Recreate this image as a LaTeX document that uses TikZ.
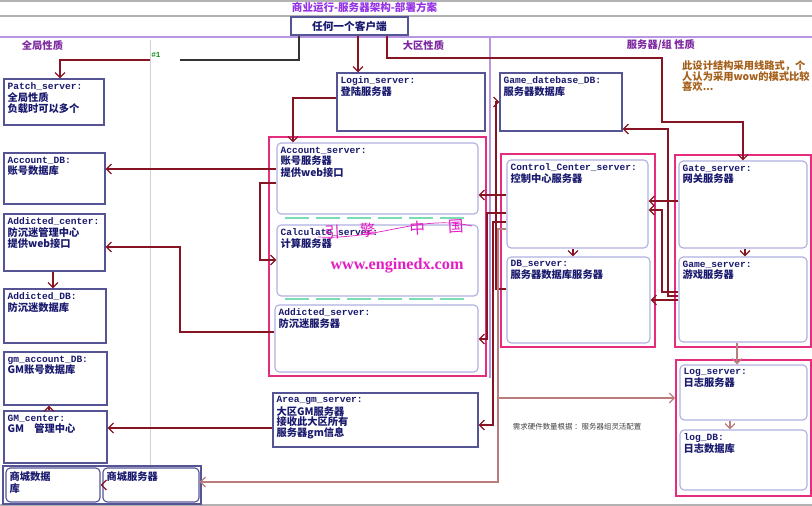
\documentclass[tikz,border=0pt]{standalone}
\usepackage{fontspec}
\setmonofont{Liberation Mono}
\newfontfamily\cjk{Noto Sans CJK SC}
\newfontfamily\serifw{Liberation Serif}
\usepackage{tikz}
\usetikzlibrary{arrows.meta,positioning,fit}
\definecolor{Navy}    {RGB}{ 25, 25,110}
\definecolor{BoxEdge} {RGB}{ 85, 85,150}
\definecolor{SoftEdge}{RGB}{175,175,225}
\definecolor{Frame}   {RGB}{230, 45,125}
\definecolor{Maroon}  {RGB}{135, 20, 35}
\definecolor{Rosy}    {RGB}{185,125,125}
\definecolor{TitleVio}{RGB}{150, 50,230}
\definecolor{ZonePur} {RGB}{125, 40,160}
\definecolor{Divider} {RGB}{185,150,225}
\definecolor{Mint}    {RGB}{120,220,180}
\definecolor{NoteBrn} {RGB}{165, 95, 25}
\definecolor{Magen}   {RGB}{225, 30,195}
\definecolor{MarkGrn} {RGB}{ 30,140, 30}

\newcommand\srv[1]{{\ttfamily\bfseries\fontsize{6.8}{8.2}\selectfont #1}}

\tikzset{
  sqbox/.style={draw=BoxEdge, line width=0.8pt, inner sep=0pt},
  rdbox/.style={draw=SoftEdge, line width=0.8pt, rounded corners=3pt, inner sep=0pt},
  grp/.style={draw=Frame, line width=1.3pt, inner sep=0pt},
  lbl/.style={anchor=north west, align=left, inner sep=2.8pt, text=Navy,
    font=\cjk\bfseries\fontsize{7.3}{8.2}\selectfont},
  ln/.style={draw=Maroon, line width=0.9pt},
  lt/.style={draw=Rosy, line width=0.9pt},
  arr/.style={-{Straight Barb[length=3.5pt,width=7pt]}},
  zone/.style={text=ZonePur, font=\cjk\bfseries\fontsize{7.3}{8}\selectfont, anchor=west}
}

\begin{document}
\begin{tikzpicture}[x=0.025cm, y=-0.025cm]
\useasboundingbox (0,0) rectangle (812,506);
\draw[gray!60, line width=1.5pt] (0,1) -- (812,1) (0,16) -- (812,16) (0,505) -- (812,505);
\draw[Divider, line width=0.8pt] (0,37) -- (812,37) (490,37) -- (490,378);
\draw[gray!35, line width=0.6pt] (150,40) -- (150,468);

\node[anchor=west, text=TitleVio, font=\cjk\bfseries\fontsize{7.5}{8}\selectfont] (title) at (287,7) {商业运行-服务器架构-部署方案};
\node[sqbox, fit={(291,17)(408,35)}, label={[text=Navy, font=\cjk\bfseries\fontsize{7.6}{8}\selectfont, anchor=center]center:任何一个客户端}] (client) {};
\node[zone] (zglobal) at (17,46) {全局性质};
\node[zone] (zarea) at (398,46) {大区性质};
\node[zone] (zgroup) at (622,45) {服务器/组 性质};
\node[anchor=west, inner sep=0pt, text=MarkGrn, font=\ttfamily\bfseries\fontsize{5.5}{6}\selectfont] (mark) at (151,55) {\#1};
\node[lbl, text=NoteBrn, font=\cjk\bfseries\fontsize{7.3}{7.8}\selectfont] (remark) at (678,56) {此设计结构采用线路式，个\\人认为采用wow的模式比较\\喜欢...};

% left column
\node[sqbox, fit={(4,79)(104,125)}, label={[lbl]north west:{\srv{Patch\_server:}\\全局性质\\负载时可以多个}}] (patch) {};
\node[sqbox, fit={(4,153)(105,204)}, label={[lbl]north west:{\srv{Account\_DB:}\\账号数据库}}] (acctdb) {};
\node[sqbox, fit={(4,214)(105,271)}, label={[lbl]north west:{\srv{Addicted\_center:}\\防沉迷管理中心\\提供web接口}}] (addc) {};
\node[sqbox, fit={(4,289)(106,343)}, label={[lbl]north west:{\srv{Addicted\_DB:}\\防沉迷数据库}}] (adddb) {};
\node[sqbox, fit={(4,352)(107,405)}, label={[lbl]north west:{\srv{gm\_account\_DB:}\\GM账号数据库}}] (gmdb) {};
\node[sqbox, fit={(4,411)(107,463)}, label={[lbl]north west:{\srv{GM\_center:}\\GM\quad 管理中心}}] (gmc) {};
\node[sqbox, fit={(3,466)(201,504)}] (shopfr) {};
\node[rdbox, draw=BoxEdge, fit={(6,468)(100,502)}, label={[lbl]north west:{商城数据\\库}}] (shopdb) {};
\node[rdbox, draw=BoxEdge, fit={(103,468)(199,502)}, label={[lbl]north west:{商城服务器}}] (shopsrv) {};

% area servers
\node[sqbox, fit={(337,73)(485,131)}, label={[lbl]north west:{\srv{Login\_server:}\\登陆服务器}}] (login) {};
\node[grp, fit={(269,137)(486,376)}] (areafr) {};
\node[rdbox, fit={(277,143)(478,214)}, label={[lbl]north west:{\srv{Account\_server:}\\账号服务器\\提供web接口}}] (acct) {};
\node[rdbox, fit={(277,225)(478,296)}, label={[lbl]north west:{\srv{Calculate\_server:}\\计算服务器}}] (calc) {};
\node[rdbox, fit={(275,305)(478,372)}, label={[lbl]north west:{\srv{Addicted\_server:}\\防沉迷服务器}}] (addsrv) {};
\node[sqbox, fit={(273,393)(478,447)}, label={[lbl, font=\cjk\bfseries\fontsize{7.3}{7.6}\selectfont]north west:{\srv{Area\_gm\_server:}\\大区GM服务器\\接收此大区所有\\服务器gm信息}}] (areagm) {};
\draw[Mint, line width=1.2pt, dash pattern=on 17pt off 5pt] (285,218) -- (470,218) (285,299) -- (470,299);
\node[text=Magen, font=\cjk\fontsize{11}{11}\selectfont, rotate=3] (wmcn) at (394,229) {引\hspace{1.3em}擎\hspace{2.2em}中\hspace{1.5em}国};
\draw[Magen, line width=0.5pt] (318,237) .. controls (380,240) and (420,214) .. (472,226);
\node[text=Magen, font=\serifw\bfseries\fontsize{11.5}{12}\selectfont] (url) at (397,266) {www.enginedx.com};

% group servers
\node[sqbox, fit={(500,73)(622,131)}, label={[lbl]north west:{\srv{Game\_datebase\_DB:}\\服务器数据库}}] (gamedb) {};
\node[grp, fit={(501,154)(655,347)}] (ccfr) {};
\node[rdbox, fit={(507,160)(648,248)}, label={[lbl]north west:{\srv{Control\_Center\_server:}\\控制中心服务器}}] (cc) {};
\node[rdbox, fit={(507,257)(650,343)}, label={[lbl]north west:{\srv{DB\_server:}\\服务器数据库服务器}}] (dbs) {};
\node[grp, fit={(675,155)(811,347)}] (ggfr) {};
\node[rdbox, fit={(679,161)(807,248)}, label={[lbl]north west:{\srv{Gate\_server:}\\网关服务器}}] (gate) {};
\node[rdbox, fit={(679,257)(807,342)}, label={[lbl]north west:{\srv{Game\_server:}\\游戏服务器}}] (game) {};
\node[grp, fit={(676,360)(811,496)}] (logfr) {};
\node[rdbox, fit={(680,365)(807,420)}, label={[lbl]north west:{\srv{Log\_server:}\\日志服务器}}] (logs) {};
\node[rdbox, fit={(680,430)(807,490)}, label={[lbl]north west:{\srv{log\_DB:}\\日志数据库}}] (logdb) {};
\node[anchor=west, text=black!75, font=\cjk\fontsize{5.3}{6}\selectfont] (hwnote) at (508,427) {需求硬件数量根据 ：服务器组灵活配置};

% connectors
\coordinate (gapR) at (180,60);
\coordinate (gapL) at (150,60);
\draw[line width=0.9pt, black!80] (client.south -| 299,0) |- (gapR);
\draw[ln, arr] (gapL) -| (patch.north -| 60,0);
\draw[ln, arr] (client.south -| 358,0) -- (login.north -| 358,0);
\draw[ln, arr] (client.south -| 387,0) |- (662,58) |- (743,122) -- (gate.north -| 743,0);
\draw[ln, arr] (login.west |- 0,98) -| (acct.north -| 293,0);
\draw[ln, arr] (acct.west |- 0,169) -- (acctdb.east |- 0,169);
\draw[ln, arr] (acct.west |- 0,183) -| (260,260) -- (calc.west |- 0,260);
\draw[ln, arr] (addsrv.west |- 0,332) -| (180,247) -- (addc.east |- 0,247);
\draw[ln, arr] (addc.south -| 53,0) -- (adddb.north -| 53,0);
\draw[ln, arr] (gmc.north -| 49,0) -- (gmdb.south -| 49,0);
\draw[ln, arr] (areagm.west |- 0,428) -- (gmc.east |- 0,428);
\draw[ln, arr] (shopsrv.west) -- (shopdb.east);
\draw[ln, arr] (cc.west |- 0,195) -- (acct.east |- 0,195);
\draw[ln, arr] (cc.west |- 0,213) -| (487,339) -- (addsrv.east |- 0,339);
\draw[ln, arr] (cc.west |- 0,222) -| (493,425) -- (areagm.east |- 0,425);
\draw[ln, arr] (dbs.west |- 0,289) -| (496,102) -- (gamedb.west |- 0,102);
\coordinate (fork) at (498,398);
\draw[lt, arr] (cc.west |- 0,229) -| (498,482) -- (shopsrv.east |- 0,482);
\draw[lt, arr] (fork) -- (logfr.west |- 0,398);
\draw[ln, arr] (gate.west |- 0,201) -- (cc.east |- 0,201);
\draw[ln, arr] (game.west |- 0,292) -| (662,210) -- (cc.east |- 0,210);
\draw[ln, arr] (game.west |- 0,296) -| (668,129) -- (gamedb.east |- 0,129);
\draw[ln, arr] (game.west |- 0,300) -- (dbs.east |- 0,300);
\draw[ln, arr] (gate.south -| 745,0) -- (game.north -| 745,0);
\draw[ln, arr] (cc.south -| 573,0) -- (dbs.north -| 573,0);
\draw[lt, arr] (game.south -| 737,0) -- (logs.north -| 737,0);
\draw[lt, arr] (logs.south -| 730,0) -- (logdb.north -| 730,0);
\end{tikzpicture}
\end{document}
